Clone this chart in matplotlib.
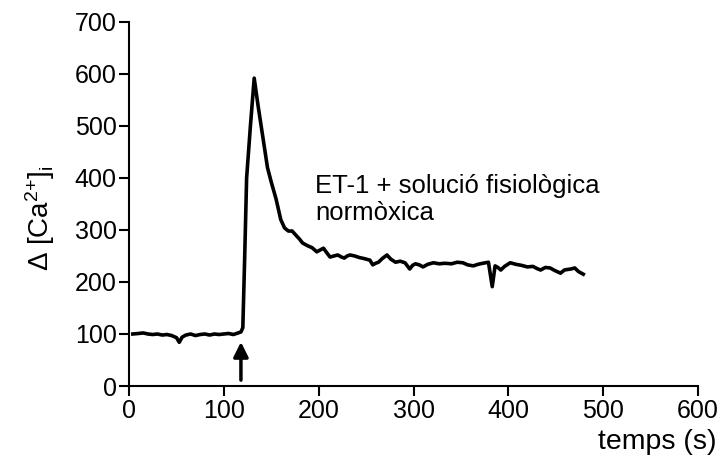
import matplotlib
matplotlib.use('Agg')
import matplotlib.pyplot as plt

# Ca2+ trace (time in s, delta Ca in nM)
temps = [4, 10, 15, 20, 25, 30, 35, 40, 45, 50, 53, 56, 60, 65, 70, 75, 80, 85,
         90, 95, 100, 105, 110, 115, 118, 120, 122, 124, 128, 132, 136, 141, 146,
         150, 155, 160, 164, 168, 172, 176, 180, 183, 188, 193, 198, 202, 205, 209,
         212, 216, 220, 224, 227, 230, 233, 238, 243, 248, 254, 257, 260, 263, 267,
         272, 276, 281, 286, 291, 296, 299, 302, 306, 310, 315, 321, 327, 333, 340,
         346, 352, 357, 363, 368, 373, 379, 383, 386, 389, 392, 396, 402, 408, 414,
         420, 426, 430, 434, 439, 444, 449, 455, 459, 462, 466, 470, 474, 479]
calci = [100, 101, 102, 100, 99, 100, 98, 99, 97, 93, 84, 94, 98, 100, 97, 99, 100, 98,
         100, 99, 100, 101, 99, 102, 104, 112, 250, 400, 500, 592, 540, 480, 420,
         392, 360, 320, 304, 298, 298, 290, 282, 275, 270, 266, 258, 262, 265, 255,
         248, 250, 252, 248, 246, 250, 252, 250, 247, 245, 242, 233, 236, 238, 245,
         252, 244, 238, 240, 237, 225, 232, 235, 233, 229, 234, 237, 235, 236, 235,
         238, 237, 233, 231, 234, 236, 238, 191, 231, 228, 223, 230, 237, 234, 232,
         229, 230, 226, 223, 228, 227, 222, 217, 223, 224, 225, 227, 220, 215]

x_ticks = [0, 100, 200, 300, 400, 500, 600]
y_ticks = [0, 100, 200, 300, 400, 500, 600, 700]
arrow_t = 118
label = 'ET-1 + solució fisiològica\nnormòxica'

plt.rcParams['font.family'] = ['Liberation Sans', 'DejaVu Sans']
plt.rcParams['mathtext.default'] = 'regular'

fig = plt.figure(figsize=(7.22, 4.62), dpi=100)
ax = fig.add_axes([0.1787, 0.1645, 0.7881, 0.7879])

ax.plot(temps, calci, color='k', lw=2.6, solid_joinstyle='round')

# stimulus arrow
ax.annotate('', xy=(arrow_t, 90), xytext=(arrow_t, 6),
            arrowprops=dict(arrowstyle='-|>', color='k', lw=2.5, mutation_scale=22))

ax.text(196, 408, label, fontsize=18.5, va='top', ha='left', linespacing=1.15)

ax.set_xlim(0, 600)
ax.set_ylim(0, 700)
ax.set_xticks(x_ticks)
ax.set_yticks(y_ticks)
ax.tick_params(direction='out', length=7, width=1.5, labelsize=18, pad=2)
for s in ['top', 'right']:
    ax.spines[s].set_visible(False)
for s in ['left', 'bottom']:
    ax.spines[s].set_linewidth(1.5)

ax.set_ylabel(r'$\Delta$ [Ca$^{2{+}}$]$_{i}$', fontsize=20)
ax.yaxis.set_label_coords(-0.127, 0.46)
fig.text(716 / 722, 20 / 462, 'temps (s)', fontsize=20.5, ha='right', va='center')

fig.savefig('out.png', dpi=100)
